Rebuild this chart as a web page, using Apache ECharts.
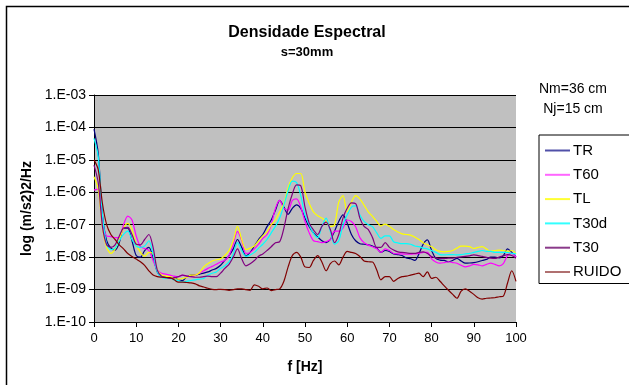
<!DOCTYPE html>
<html>
<head>
<meta charset="utf-8">
<title>Densidade Espectral</title>
<script src="https://cdn.jsdelivr.net/npm/echarts@6/dist/echarts.min.js"></script>
<style>
  html, body { margin: 0; padding: 0; background: #fff; }
  #chart { width: 629px; height: 385px; }
</style>
</head>
<body>
<div id="chart"></div>
<script>
// frequencia [Hz]
const freqs = [0, 1, 2, 3, 4, 5, 6, 7, 8, 9, 10, 11, 12, 13, 14, 15, 16, 17, 18, 19,
  20, 21, 22, 23, 24, 25, 26, 27, 28, 29, 30, 31, 32, 33, 34, 35, 36, 37, 38, 39,
  40, 41, 42, 43, 44, 45, 46, 47, 48, 49, 50, 51, 52, 53, 54, 55, 56, 57, 58, 59,
  60, 61, 62, 63, 64, 65, 66, 67, 68, 69, 70, 71, 72, 73, 74, 75, 76, 77, 78, 79,
  80, 81, 82, 83, 84, 85, 86, 87, 88, 89, 90, 91, 92, 93, 94, 95, 96, 97, 98, 99, 100]

const yTickLabels = ['1.E-10', '1.E-09', '1.E-08', '1.E-07', '1.E-06', '1.E-05', '1.E-04', '1.E-03']

const tr = [8.9e-5, 1.6e-5, 2.0e-7, 3.2e-8, 1.9e-8, 1.65e-8, 2.8e-8, 7.9e-8, 7.9e-8, 3.2e-8,
  1.12e-8, 1e-8, 1.6e-8, 2.0e-8, 1e-8, 3.5e-9, 2.5e-9, 2.4e-9, 2.2e-9, 2.4e-9,
  2.0e-9, 1.9e-9, 2.5e-9, 2.8e-9, 2.8e-9, 3.0e-9, 3.2e-9, 3.5e-9, 4.0e-9, 4.5e-9,
  5.6e-9, 7.9e-9, 1.12e-8, 1.8e-8, 3.5e-8, 2.0e-8, 1.1e-8, 1.4e-8, 2.2e-8, 3.5e-8,
  5.0e-8, 8.7e-8, 1.4e-7, 2.8e-7, 5.6e-7, 3.5e-7, 2.1e-7, 3.2e-7, 4.1e-7, 3.2e-7,
  1.6e-7, 8.7e-8, 5.6e-8, 4.2e-8, 3.2e-8, 2.8e-8, 3.5e-8, 6.3e-8, 1.26e-7, 2.0e-7,
  1.12e-7, 5.0e-8, 3.2e-8, 2.6e-8, 2.5e-8, 2.4e-8, 2.2e-8, 1.9e-8, 1.4e-8, 1.6e-8,
  1.5e-8, 1.26e-8, 1.2e-8, 1.12e-8, 9.5e-9, 8.9e-9, 7.9e-9, 1.26e-8, 2.5e-8, 3.4e-8,
  1.6e-8, 9.1e-9, 8.1e-9, 7.9e-9, 7.2e-9, 7.9e-9, 9.1e-9, 7.6e-9, 6.5e-9, 6.6e-9,
  6.8e-9, 7.2e-9, 7.9e-9, 8.5e-9, 1e-8, 1e-8, 9.5e-9, 1.12e-8, 1.8e-8, 1.4e-8, 1.02e-8]

const t60 = [1.17e-6, 1.26e-6, 1.12e-7, 4.5e-8, 4.3e-8, 4.0e-8, 4.0e-8, 1e-7, 1.85e-7, 1.4e-7,
  4.5e-8, 2.1e-8, 1.85e-8, 1.6e-8, 7.9e-9, 4.0e-9, 3.2e-9, 3.0e-9, 2.8e-9, 2.6e-9,
  2.5e-9, 2.8e-9, 2.6e-9, 2.5e-9, 2.8e-9, 3.2e-9, 3.8e-9, 4.5e-9, 5.2e-9, 6.0e-9,
  7.1e-9, 7.9e-9, 1.12e-8, 2.5e-8, 6.2e-8, 3.2e-8, 1.3e-8, 1.4e-8, 1.8e-8, 2.5e-8,
  3.8e-8, 5.0e-8, 1e-7, 3.2e-7, 5.6e-7, 3.2e-7, 2.8e-7, 5.6e-7, 6.3e-7, 3.5e-7,
  1.26e-7, 5.6e-8, 3.2e-8, 3.0e-8, 2.8e-8, 3.0e-8, 3.5e-8, 6.3e-8, 6.3e-8, 7.9e-8,
  1.4e-7, 1.26e-7, 8.7e-8, 4.0e-8, 2.8e-8, 2.35e-8, 2.1e-8, 1.8e-8, 1.4e-8, 1.8e-8,
  1.6e-8, 1.3e-8, 1.26e-8, 1.26e-8, 1.23e-8, 1.23e-8, 1.26e-8, 1.3e-8, 1.4e-8, 1.4e-8,
  8.9e-9, 7.1e-9, 6.5e-9, 6.8e-9, 7.2e-9, 6.8e-9, 6.5e-9, 5.6e-9, 5.0e-9, 5.4e-9,
  6.0e-9, 5.8e-9, 5.4e-9, 6.0e-9, 6.5e-9, 6.0e-9, 5.4e-9, 6.3e-9, 1.12e-8, 1.3e-8, 1e-8]

const tl = [3.0e-6, 1.26e-6, 7.9e-8, 2.0e-8, 1.3e-8, 1.8e-8, 3.5e-8, 7.9e-8, 1.1e-7, 7.1e-8,
  2.5e-8, 1.4e-8, 1.07e-8, 1.4e-8, 1.26e-8, 4.0e-9, 2.8e-9, 2.6e-9, 2.5e-9, 2.2e-9,
  2.1e-9, 2.2e-9, 2.4e-9, 2.8e-9, 2.8e-9, 3.3e-9, 5.0e-9, 6.3e-9, 7.6e-9, 8.3e-9,
  8.9e-9, 1.12e-8, 1.6e-8, 3.2e-8, 8.9e-8, 3.5e-8, 1.7e-8, 1.9e-8, 2.2e-8, 3.2e-8,
  4.5e-8, 6.0e-8, 1e-7, 1.4e-7, 2.5e-7, 4.5e-7, 1.4e-6, 2.8e-6, 3.8e-6, 3.8e-6,
  1e-6, 4.5e-7, 2.5e-7, 1.9e-7, 1.6e-7, 1.26e-7, 8.9e-8, 1e-7, 5.0e-7, 7.9e-7,
  2.5e-7, 5.0e-7, 7.9e-7, 6.3e-7, 4.0e-7, 2.5e-7, 1.8e-7, 1.26e-7, 9.1e-8, 1.05e-7,
  8.9e-8, 7.1e-8, 6.0e-8, 5.2e-8, 5.0e-8, 4.8e-8, 4.2e-8, 3.5e-8, 2.8e-8, 2.4e-8,
  2.1e-8, 1.7e-8, 1.5e-8, 1.45e-8, 1.5e-8, 1.6e-8, 1.9e-8, 2.2e-8, 2.2e-8, 2.1e-8,
  1.85e-8, 2.0e-8, 2.1e-8, 1.8e-8, 1.5e-8, 1.6e-8, 1.65e-8, 1.6e-8, 1.5e-8, 1.6e-8, 1.26e-8]

const t30d = [4.6e-5, 1.26e-5, 2.0e-7, 2.5e-8, 1.7e-8, 1.9e-8, 3.2e-8, 5.0e-8, 6.3e-8, 3.5e-8,
  2.2e-8, 2.0e-8, 2.2e-8, 3.2e-8, 1.26e-8, 3.5e-9, 2.4e-9, 2.2e-9, 2.2e-9, 2.0e-9,
  1.9e-9, 1.7e-9, 1.8e-9, 1.9e-9, 2.0e-9, 2.1e-9, 2.2e-9, 2.8e-9, 3.2e-9, 3.5e-9,
  4.5e-9, 5.4e-9, 7.1e-9, 1.26e-8, 2.8e-8, 1.6e-8, 1.05e-8, 1.17e-8, 1.4e-8, 1.9e-8,
  2.5e-8, 3.5e-8, 5.6e-8, 8.9e-8, 1.6e-7, 4.0e-7, 1.12e-6, 2.2e-6, 2.0e-6, 7.9e-7,
  2.0e-7, 1e-7, 5.4e-8, 4.0e-8, 8.9e-8, 1.6e-7, 6.3e-8, 2.5e-8, 3.2e-8, 1e-7,
  2.0e-7, 3.5e-7, 3.8e-7, 2.0e-7, 1.26e-7, 1e-7, 8.7e-8, 5.6e-8, 3.8e-8, 4.5e-8,
  4.5e-8, 3.0e-8, 2.75e-8, 2.6e-8, 2.6e-8, 2.5e-8, 2.2e-8, 2.1e-8, 1.9e-8, 1.8e-8,
  1.6e-8, 1.4e-8, 1.2e-8, 1.17e-8, 1.2e-8, 1.2e-8, 1.17e-8, 1.2e-8, 1.26e-8, 1.3e-8,
  1.4e-8, 1.5e-8, 1.6e-8, 1.5e-8, 1.5e-8, 1.4e-8, 1.4e-8, 1.4e-8, 1.4e-8, 1.3e-8, 1.26e-8]

const t30 = [6.9e-6, 2.0e-6, 8.9e-8, 2.4e-8, 2.0e-8, 2.4e-8, 4.5e-8, 7.9e-8, 8.3e-8, 5.0e-8,
  2.5e-8, 2.4e-8, 3.5e-8, 5.0e-8, 2.0e-8, 4.0e-9, 2.6e-9, 2.4e-9, 2.2e-9, 2.3e-9,
  2.5e-9, 2.8e-9, 2.6e-9, 2.5e-9, 2.4e-9, 2.4e-9, 2.5e-9, 2.6e-9, 2.5e-9, 2.5e-9,
  3.2e-9, 4.5e-9, 6.0e-9, 1e-8, 1.8e-8, 8.9e-9, 5.4e-9, 6.3e-9, 7.9e-9, 1.07e-8,
  1.26e-8, 1.6e-8, 2.1e-8, 2.8e-8, 3.0e-8, 7.9e-8, 3.2e-7, 8.9e-7, 1.7e-6, 1.6e-6,
  3.5e-7, 1.12e-7, 6.9e-8, 5.0e-8, 8.9e-8, 1.2e-7, 7.1e-8, 2.8e-8, 5.0e-8, 1.6e-7,
  3.2e-7, 4.7e-7, 4.5e-7, 1.6e-7, 8.9e-8, 7.1e-8, 4.0e-8, 2.0e-8, 2.0e-8, 2.8e-8,
  2.0e-8, 1.65e-8, 1.45e-8, 1.4e-8, 1.35e-8, 1.3e-8, 1.3e-8, 1.4e-8, 1.45e-8, 1.3e-8,
  1.05e-8, 9.5e-9, 9.1e-9, 9.1e-9, 9.3e-9, 9.3e-9, 9.8e-9, 1.02e-8, 1.05e-8, 1.1e-8,
  1.17e-8, 1.12e-8, 1.05e-8, 9.8e-9, 9.3e-9, 9.1e-9, 1e-8, 1.1e-8, 1.2e-8, 1.12e-8, 9.3e-9]

const ruido = [1e-5, 5.0e-6, 4.5e-7, 1e-7, 5.0e-8, 3.5e-8, 2.4e-8, 1.8e-8, 1.3e-8, 1.05e-8,
  8.7e-9, 7.2e-9, 5.6e-9, 3.8e-9, 2.8e-9, 2.5e-9, 2.4e-9, 2.35e-9, 2.35e-9, 2.0e-9,
  1.7e-9, 1.7e-9, 1.65e-9, 1.6e-9, 1.5e-9, 1.3e-9, 1.2e-9, 1.1e-9, 1.02e-9, 1e-9,
  1.02e-9, 1e-9, 9.5e-10, 1e-9, 1.05e-9, 1.05e-9, 1e-9, 9.5e-10, 1.4e-9, 1.26e-9,
  1.05e-9, 1.12e-9, 9.3e-10, 1e-9, 1.05e-9, 1.8e-9, 5.0e-9, 1.12e-8, 1.4e-8, 1e-8,
  5.0e-9, 4.8e-9, 7.9e-9, 1.12e-8, 7.1e-9, 3.8e-9, 6.3e-9, 7.6e-9, 5.8e-9, 1e-8,
  1.5e-8, 1.4e-8, 1.3e-8, 1.05e-8, 7.6e-9, 7.2e-9, 7.1e-9, 4.0e-9, 2.0e-9, 2.5e-9,
  2.5e-9, 1.8e-9, 2.2e-9, 2.5e-9, 2.6e-9, 2.8e-9, 3.0e-9, 3.2e-9, 2.5e-9, 3.5e-9,
  2.2e-9, 2.4e-9, 1.8e-9, 1.3e-9, 9.5e-10, 7.1e-10, 5.4e-10, 8.9e-10, 1.05e-9, 8.9e-10,
  7.1e-10, 5.6e-10, 5.1e-10, 5.4e-10, 5.5e-10, 5.6e-10, 6.0e-10, 6.3e-10, 1.6e-9, 3.8e-9, 1.8e-9]

const seriesNames = ['TR', 'T60', 'TL', 'T30d', 'T30', 'RUIDO']
const seriesValues = [tr, t60, tl, t30d, t30, ruido]
const seriesColors = ['#000080', '#FF00FF', '#FFFF00', '#00FFFF', '#800080', '#800000']
// cores um pouco mais claras na legenda, como no original
const legendColors = ['#5050A8', '#FF66FF', '#FFFF33', '#33FFFF', '#8A3A8A', '#B07070']

const font = '"Liberation Sans", Arial, sans-serif'

const chart = echarts.init(document.getElementById('chart'))

chart.setOption({
  animation: false,
  backgroundColor: '#fff',
  textStyle: { fontFamily: font },
  grid: {
    left: 94,
    right: 113,
    top: 95,
    bottom: 63,
    show: true,
    backgroundColor: '#C0C0C0',
    borderWidth: 0
  },
  legend: {
    orient: 'vertical',
    left: 539,
    top: 135,
    width: 89,
    padding: [8, 10, 4, 6],
    itemGap: 9.3,
    itemWidth: 25,
    itemHeight: 2,
    icon: 'rect',
    backgroundColor: '#fff',
    borderColor: '#000',
    borderWidth: 1,
    textStyle: { fontFamily: font, fontSize: 15, color: '#000', lineHeight: 15, padding: [0, 0, 0, -2] },
    data: seriesNames.map(function (name, k) {
      return { name: name, itemStyle: { color: legendColors[k] } }
    })
  },
  xAxis: {
    type: 'value',
    min: 0,
    max: 100,
    interval: 10,
    name: 'f [Hz]',
    nameLocation: 'middle',
    nameGap: 38,
    nameTextStyle: { fontFamily: font, fontSize: 14, fontWeight: 'bold', color: '#000' },
    axisLine: { lineStyle: { color: '#000', width: 1 } },
    axisTick: { inside: false, length: 5, lineStyle: { color: '#000' } },
    axisLabel: { fontFamily: font, fontSize: 13, color: '#000', margin: 10 },
    splitLine: { show: false }
  },
  yAxis: {
    type: 'log',
    logBase: 10,
    min: 1e-10,
    max: 1e-3,
    interval: 1,
    name: 'log (m/s2)2/Hz',
    nameLocation: 'middle',
    nameGap: 51,
    nameTextStyle: { fontFamily: font, fontSize: 14, fontWeight: 'bold', color: '#000' },
    axisLine: { show: true, lineStyle: { color: '#000', width: 1 } },
    axisTick: { show: true, inside: false, length: 5, lineStyle: { color: '#000' } },
    axisLabel: {
      fontFamily: font,
      fontSize: 14,
      color: '#000',
      margin: 8,
      formatter: function (v) {
        const idx = Math.round(Math.log10(v)) + 10
        return yTickLabels[idx] || ''
      }
    },
    splitLine: { show: true, lineStyle: { color: '#000', width: 1 } }
  },
  series: seriesNames.map(function (name, k) {
    return {
      name: name,
      type: 'line',
      data: freqs.map(function (f, i) { return [f, seriesValues[k][i]] }),
      smooth: 0.3,
      symbol: 'none',
      lineStyle: { color: seriesColors[k], width: 1.2 },
      itemStyle: { color: seriesColors[k] }
    }
  }),
  graphic: [
    {
      type: 'rect',
      shape: { x: 6.5, y: 6.5, width: 660, height: 420 },
      style: { fill: null, stroke: '#000', lineWidth: 1.5 },
      silent: true
    },
    {
      type: 'text',
      x: 307,
      y: 25,
      style: { text: 'Densidade Espectral', font: 'bold 16px ' + font, fill: '#000', textAlign: 'center' }
    },
    {
      type: 'text',
      x: 307,
      y: 46,
      style: { text: 's=30mm', font: 'bold 13px ' + font, fill: '#000', textAlign: 'center' }
    },
    {
      type: 'text',
      x: 573,
      y: 82,
      style: { text: 'Nm=36 cm', font: '14px ' + font, fill: '#000', textAlign: 'center' }
    },
    {
      type: 'text',
      x: 573,
      y: 102,
      style: { text: 'Nj=15 cm', font: '14px ' + font, fill: '#000', textAlign: 'center' }
    }
  ]
})
</script>
</body>
</html>
